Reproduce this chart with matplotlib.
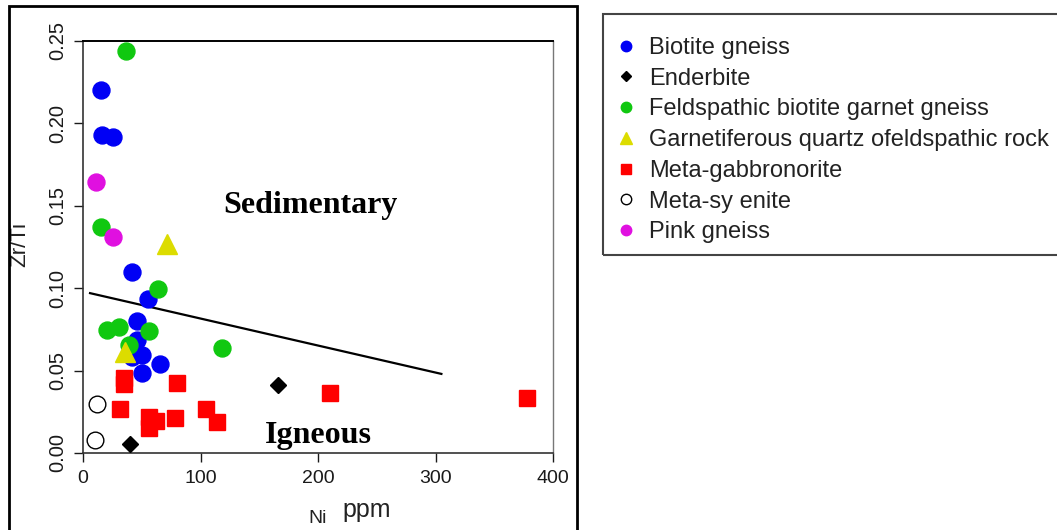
import matplotlib
matplotlib.use("Agg")
import matplotlib.pyplot as plt
from matplotlib.lines import Line2D
from matplotlib.patches import Rectangle

plt.rcParams["font.family"] = ["Liberation Sans", "DejaVu Sans"]

# values (Ni ppm vs Zr/Ti)
biotite_x = [15.3, 15.9, 25.8, 41.4, 55.0, 46.2, 45.7, 50.0, 41.4, 50.5, 65.5]
biotite_y = [0.220, 0.193, 0.192, 0.1096, 0.0933, 0.0801, 0.0686, 0.0595, 0.0584, 0.0487, 0.054]
enderbite_x = [166, 40.3]
enderbite_y = [0.0413, 0.0053]
feld_x = [36.9, 15.6, 63.5, 20.1, 30.6, 56.5, 39.4, 118]
feld_y = [0.244, 0.137, 0.0993, 0.0746, 0.0767, 0.0742, 0.0655, 0.0639]
garnet_x = [71.2, 35.7]
garnet_y = [0.1268, 0.061]
gabbro_x = [35.2, 35.2, 80.3, 31.8, 56.5, 61.8, 56.5, 78.6, 105, 114.3, 210.5, 377.6]
gabbro_y = [0.0453, 0.0417, 0.0423, 0.0265, 0.0217, 0.0194, 0.015, 0.021, 0.0265, 0.0186, 0.0362, 0.0332]
syenite_x = [12.2, 9.9]
syenite_y = [0.0295, 0.0079]
pink_x = [10.8, 25.8]
pink_y = [0.1646, 0.1309]

boundary_x = [6, 305]
boundary_y = [0.097, 0.048]

labels = ["Biotite gneiss", "Enderbite", "Feldspathic biotite garnet gneiss",
          "Garnetiferous quartz ofeldspathic rock", "Meta-gabbronorite",
          "Meta-sy enite", "Pink gneiss"]

W, H = 1057, 530
fig = plt.figure(figsize=(W / 100, H / 100), dpi=100)
ax = fig.add_axes([83 / W, 1 - 453 / H, 470 / W, 412 / H])

ax.plot(boundary_x, boundary_y, color="black", lw=1.6, zorder=1)

series = [
    (biotite_x, biotite_y, "o", "#0000f5", "#0000f5", 12.2),
    (enderbite_x, enderbite_y, "D", "black", "black", 8.5),
    (feld_x, feld_y, "o", "#10c810", "#10c810", 12.2),
    (garnet_x, garnet_y, "^", "#dcdc00", "#dcdc00", 15.0),
    (gabbro_x, gabbro_y, "s", "#ff0000", "#ff0000", 12.0),
    (syenite_x, syenite_y, "o", "white", "black", 12.0),
    (pink_x, pink_y, "o", "#e010e0", "#e010e0", 12.2),
]
handles = []
legend_ms = {"o": 7.5, "D": 5.5, "^": 8.5, "s": 7.0}
for xs, ys, mk, fc, ec, ms in series:
    ax.plot(xs, ys, linestyle="none", marker=mk, markersize=ms,
            markerfacecolor=fc, markeredgecolor=ec, markeredgewidth=1.0, zorder=3)
    handles.append(Line2D([], [], linestyle="none", marker=mk, markersize=legend_ms[mk],
                          markerfacecolor=fc, markeredgecolor=ec, markeredgewidth=1.0))

ax.set_xlim(0, 400)
ax.set_ylim(0, 0.25)
ax.set_xticks([0, 100, 200, 300, 400])
ax.set_yticks([0, 0.05, 0.10, 0.15, 0.20, 0.25])
ax.set_yticklabels(["0.00", "0.05", "0.10", "0.15", "0.20", "0.25"],
                   rotation=90, va="center")
ax.tick_params(direction="out", length=6.5, width=1, labelsize=14, pad=6,
               colors="#1a1a1a", top=False, right=False)
ax.tick_params(axis="y", labelsize=14.5, pad=4.5)

for side in ["left", "bottom"]:
    ax.spines[side].set_color("#333333")
    ax.spines[side].set_linewidth(1.2)
ax.spines["top"].set_color("black")
ax.spines["top"].set_linewidth(1.4)
ax.spines["right"].set_color("#777777")
ax.spines["right"].set_linewidth(1.0)

ax.set_ylabel("Zr/Ti", fontsize=16, color="#222222")
ax.yaxis.set_label_coords(-0.112, 0.505)

fig.text(308 / W, 1 - 523 / H, "Ni", fontsize=14, color="#222222", va="baseline")
fig.text(342 / W, 1 - 517 / H, "ppm", fontsize=18, color="#222222", va="baseline")

ax.text(193.6, 0.1458, "Sedimentary", family="Liberation Serif", weight="bold",
        fontsize=23, ha="center", va="baseline")
ax.text(200, 0.006, "Igneous", family="Liberation Serif", weight="bold",
        fontsize=23, ha="center", va="baseline")

# outer frame around the plot
fig.add_artist(Rectangle((9 / W, -0.1), (576.7 - 9) / W, 1.1 - 5.7 / H,
                         transform=fig.transFigure, fill=False,
                         edgecolor="black", lw=2.0))
# legend box (runs off the right edge)
fig.add_artist(Rectangle((602.7 / W, 1 - 255 / H), 0.5, (255 - 14) / H,
                         transform=fig.transFigure, fill=False,
                         edgecolor="#444444", lw=1.5))

fig.legend(handles, labels, loc="upper left", bbox_to_anchor=(614 / W, 1 - 37 / H),
           frameon=False, borderpad=0, borderaxespad=0, handlelength=1.0,
           handletextpad=0.5, labelspacing=0.37, fontsize=17,
           labelcolor="#222222")

fig.savefig("out.png", dpi=100)
